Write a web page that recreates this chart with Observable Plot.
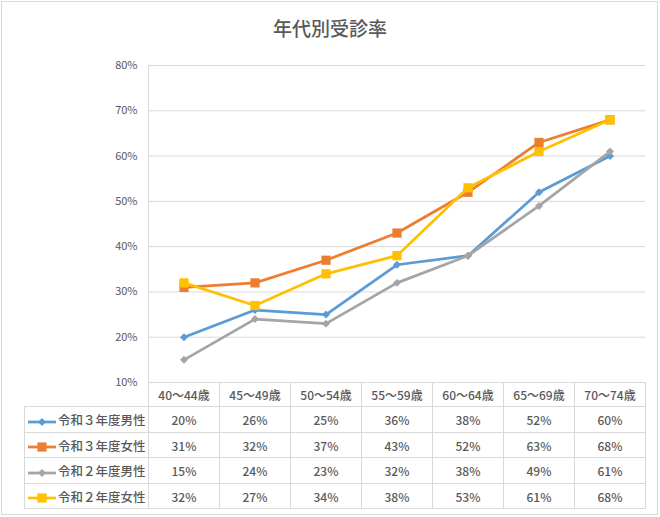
<!DOCTYPE html>
<html><head><meta charset="utf-8">
<script src="https://cdn.jsdelivr.net/npm/d3@7"></script>
<script src="https://cdn.jsdelivr.net/npm/@observablehq/plot@0.6"></script>
<style>
body{margin:0;background:#fff;font-family:"Noto Sans CJK JP",sans-serif;}
#wrap{position:relative;width:660px;height:517px;overflow:hidden;background:#fff;}
#border{position:absolute;left:1px;top:1px;width:655px;height:512px;border:1px solid #D9D9D9;}
#title{position:absolute;left:0;top:14px;width:660px;text-align:center;font-size:19px;line-height:28px;color:#595959;font-weight:500;}
#chart{position:absolute;left:0;top:55px;}
table{position:absolute;left:24px;top:382px;border-collapse:collapse;table-layout:fixed;color:#595959;}
td{border:1px solid #D9D9D9;text-align:center;font-size:12px;padding:0;white-space:nowrap;font-weight:500;}
td.blank{border-top:none;border-left:none;}
td.lab{text-align:left;font-size:12.5px;padding-left:3px;}
td.lab svg{vertical-align:middle;margin-right:2px;}
</style></head>
<body>
<div id="wrap">
<div id="border"></div>
<div id="title">年代別受診率</div>
<div id="chart"></div>
<table id="tbl"></table>
</div>
<script>
const categories = ["40～44歳","45～49歳","50～54歳","55～59歳","60～64歳","65～69歳","70～74歳"];
const seriesNames = ["令和３年度男性","令和３年度女性","令和２年度男性","令和２年度女性"];
const r3Male   = [20,26,25,36,38,52,60];
const r3Female = [31,32,37,43,52,63,68];
const r2Male   = [15,24,23,32,38,49,61];
const r2Female = [32,27,34,38,53,61,68];
const yTicks = [10,20,30,40,50,60,70,80];
const colors = ["#5B9BD5","#ED7D31","#A5A5A5","#FFC000"];
const symbols = ["diamond2","square","diamond2","square"];
const symbolR = [3.6,5.2,3.6,5.2];

const seriesValues = [r3Male, r3Female, r2Male, r2Female];
const rows = seriesValues.flatMap((vals,i)=>vals.map((v,j)=>({series:seriesNames[i], cat:categories[j], value:v})));

const seriesMarks = seriesNames.flatMap((name,i)=>{
  const d = rows.filter(r=>r.series===name);
  return [
    Plot.line(d,{x:"cat",y:"value",stroke:colors[i],strokeWidth:2.75,strokeLinejoin:"round"}),
    Plot.dot(d,{x:"cat",y:"value",symbol:()=>symbols[i],fill:colors[i],stroke:"none",r:symbolR[i]})
  ];
});

const chart = Plot.plot({
  width:660, height:327,
  marginLeft:148, marginRight:15, marginTop:10, marginBottom:0,
  x:{type:"band", domain:categories, padding:0, axis:null},
  y:{domain:[10,80], axis:null},
  symbol:{domain:symbols, range:symbols},
  style:{fontFamily:'"Noto Sans CJK JP",sans-serif', fontSize:"11px", color:"#595959", background:"transparent", overflow:"visible"},
  marks:[
    Plot.ruleY(yTicks,{stroke:"#D9D9D9", strokeWidth:1}),
    Plot.frame({anchor:"left", stroke:"#D9D9D9"}),
    Plot.axisY({ticks:yTicks, tickSize:0, tickPadding:11, tickFormat:d=>d+"%", fill:"#595959", label:null}),
    ...seriesMarks
  ]
});
document.getElementById("chart").appendChild(chart);

// data table
const tbl = document.getElementById("tbl");
const widths = [124].concat(categories.map(()=>71));
const cg = document.createElement("colgroup");
widths.forEach(w=>{const c=document.createElement("col");c.style.width=w+"px";cg.appendChild(c);});
tbl.appendChild(cg);
const hr = document.createElement("tr"); hr.style.height="24px";
const b = document.createElement("td"); b.className="blank"; hr.appendChild(b);
categories.forEach(c=>{const td=document.createElement("td");td.textContent=c;hr.appendChild(td);});
tbl.appendChild(hr);
const rowH=[26,25,26,25];
seriesNames.forEach((name,i)=>{
  const tr=document.createElement("tr"); tr.style.height=rowH[i]+"px";
  const td=document.createElement("td"); td.className="lab";
  const svg=d3.create("svg").attr("width",28).attr("height",12);
  svg.append("line").attr("x1",0).attr("x2",28).attr("y1",6).attr("y2",6).attr("stroke",colors[i]).attr("stroke-width",2.75);
  const sym = symbols[i]==="square" ? d3.symbolSquare : d3.symbolDiamond2;
  svg.append("path").attr("transform","translate(14,6)").attr("fill",colors[i])
     .attr("d",d3.symbol(sym, Math.PI*symbolR[i]*symbolR[i])());
  td.appendChild(svg.node());
  td.appendChild(document.createTextNode(name));
  tr.appendChild(td);
  seriesValues[i].forEach(v=>{const c=document.createElement("td");c.textContent=v+"%";tr.appendChild(c);});
  tbl.appendChild(tr);
});
</script>
</body></html>
